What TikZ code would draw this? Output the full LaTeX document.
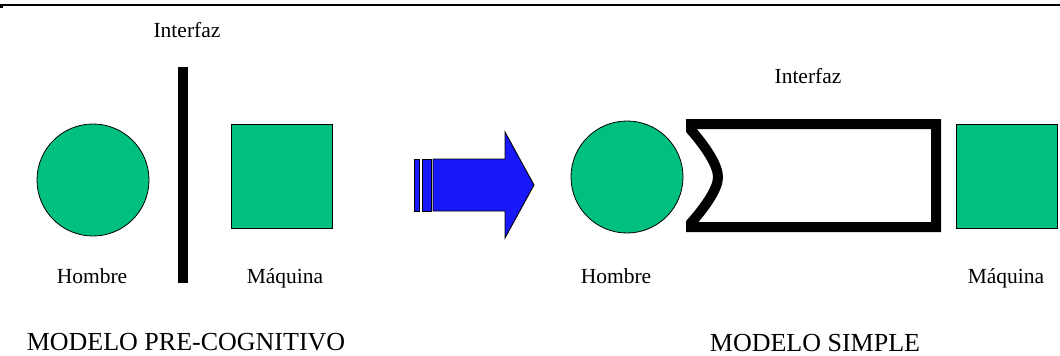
\documentclass[tikz,border=0pt]{standalone}
\usepackage{fontspec}
\setmainfont{Liberation Serif}
\definecolor{hgreen}{RGB}{0,191,128}
\definecolor{arrblue}{RGB}{24,24,250}
\begin{document}
\begin{tikzpicture}[x=1pt,y=-1pt,
  lbl/.style={anchor=base,inner sep=0pt,font=\fontsize{21.5}{25}\selectfont},
  title/.style={anchor=base,inner sep=0pt,font=\fontsize{26}{30}\selectfont},
  human/.style={circle,draw=black,line width=0.8pt,fill=hgreen,minimum size=112pt,inner sep=0pt},
  machine/.style={rectangle,draw=black,line width=0.8pt,fill=hgreen,minimum width=101pt,minimum height=104pt,inner sep=0pt},
  blueshape/.style={draw=black,line width=0.9pt,fill=arrblue,line join=miter}]
\useasboundingbox (0,0) rectangle (1060,356);
% top rule
\coordinate (ruleL) at (0,5);
\coordinate (ruleR) at (1060,5);
\draw[line width=2pt] (ruleL) -- (ruleR);
\fill (0,5) rectangle (3,7.5);

% ---- left: pre-cognitive model
\node[human] (h1) at (93,180) {};
\node[machine] (m1) at (281.5,176) {};
\fill (178,67) rectangle (188,283);
\node[lbl] (i1) at (187,37) {Interfaz};
\node[lbl] (hl1) at (92,283) {Hombre};
\node[lbl] (ml1) at (285,283) {Máquina};
\node[title] (t1) at (186,350) {MODELO PRE-COGNITIVO};

% ---- blue arrow
\draw[blueshape] (414,159) rectangle (419,211);
\draw[blueshape] (422,159) rectangle (431,211);
\draw[blueshape] (433,159) -- (505,159) -- (505,132) -- (534,185) -- (505,238) -- (505,211) -- (433,211) -- cycle;

% ---- right: simple model
\node[human] (h2) at (627,177) {};
\node[machine] (m2) at (1006.5,176) {};
\draw[line width=10pt,line join=miter]
  (691,130) -- (691,124) -- (936,124) -- (936,227) -- (691,227) -- (691,223)
  .. controls (705,207) and (718,189) .. (718,177)
  .. controls (718,165) and (705,146) .. (691,130) -- cycle;
\node[lbl] (i2) at (808,83) {Interfaz};
\node[lbl] (hl2) at (616,283) {Hombre};
\node[lbl] (ml2) at (1006,283) {Máquina};
\node[title] (t2) at (815,351) {MODELO SIMPLE};
\end{tikzpicture}
\end{document}
